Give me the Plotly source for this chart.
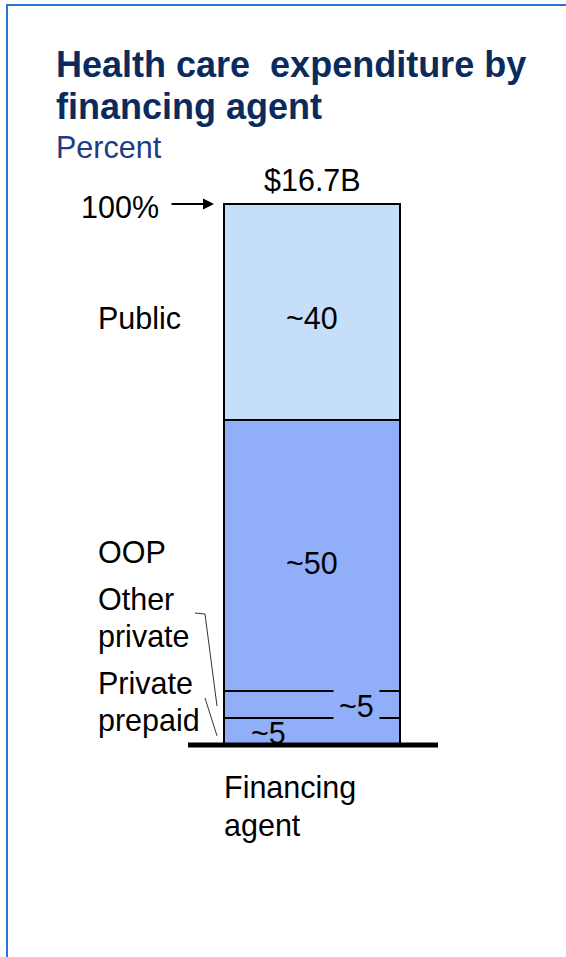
import plotly.graph_objects as go

# Stacked share of health care expenditure by financing agent (bottom to top)
segments = ["Private prepaid", "Other private", "OOP", "Public"]
shares = [5, 5, 50, 40]
seg_colors = ["#91AEF9", "#91AEF9", "#91AEF9", "#C5DFFA"]
category = "Financing agent"
total_label = "$16.7B"

W, H = 566, 957
FONT = "Liberation Sans, Arial, sans-serif"
LABEL_SIZE = 30.5
TITLE_SIZE = 36

# Pixel <-> data mapping for the single full-page plot area
BAR_LEFT, BAR_RIGHT = 224, 400
BASE_PX, TOP_PX = 745, 204
x_unit = BAR_RIGHT - BAR_LEFT            # one bar width
x_center = (BAR_LEFT + BAR_RIGHT) / 2
y_unit = (BASE_PX - TOP_PX) / 100.0


def px(x):
    return (x - x_center) / x_unit


def py(y):
    return (BASE_PX - y) / y_unit


fig = go.Figure()
for name, val, col in zip(segments, shares, seg_colors):
    fig.add_trace(go.Bar(
        x=[0], y=[val], width=[1], name=name,
        marker=dict(color=col, line=dict(color="black", width=2)),
        hoverinfo="skip", showlegend=False,
    ))

ann = []


def text(x, y, s, size=LABEL_SIZE, color="black", xanchor="left", bold=False, **kw):
    ann.append(dict(
        x=x, y=y, xref="x", yref="y", text=f"<b>{s}</b>" if bold else s,
        showarrow=False, xanchor=xanchor, yanchor="middle",
        font=dict(family=FONT, size=size, color=color), **kw))


# Title and unit
text(px(54), py(64), "Health care  expenditure by", size=TITLE_SIZE, color="#0B2B5E", bold=True)
text(px(54), py(106), "financing agent", size=TITLE_SIZE, color="#0B2B5E", bold=True)
text(px(54), py(147), "Percent", color="#1B3C86")

# Total above the bar and 100% marker
text(0, py(180), total_label, xanchor="center")
text(px(161), py(207), "100%", xanchor="right")
ann.append(dict(x=-0.5, y=sum(shares), xref="x", yref="y", text="",
                showarrow=True, ax=-54, ay=0, axref="pixel", ayref="pixel",
                arrowhead=2, arrowsize=1.1, arrowwidth=2, arrowcolor="black",
                standoff=10))

# Segment value labels
cum = [sum(shares[:i]) for i in range(len(shares))]
mids = [c + v / 2 for c, v in zip(cum, shares)]
text(0, mids[3] - 1.1, f"~{shares[3]}", xanchor="center")
text(0, mids[2] - 1.3, f"~{shares[2]}", xanchor="center")
text(px(356), mids[1] - 0.3, f"~{shares[1]}", xanchor="center",
     bgcolor=seg_colors[1], borderpad=5)
text(px(268), mids[0] - 0.3, f"~{shares[0]}", xanchor="center")

# Segment names to the left of the bar
text(px(96), mids[3] - 1.1, "Public")
text(px(96), py(552), "OOP")
text(px(96), py(599), "Other")
text(px(96), py(636), "private")
text(px(96), py(683), "Private")
text(px(96), py(720), "prepaid")

# Category label under the baseline
text(px(222), py(787), "Financing")
text(px(222), py(825), "agent")

shapes = [
    # baseline
    dict(type="line", xref="x", yref="y", x0=px(188), x1=px(438), y0=0, y1=0,
         line=dict(color="black", width=5), layer="above"),
    # leader lines
    dict(type="path", xref="x", yref="y",
         path=f"M {px(195)},{py(613)} L {px(205)},{py(614)} L {px(217)},{mids[1] - 0.3}",
         line=dict(color="#333333", width=1)),
    dict(type="line", xref="x", yref="y", x0=px(205), y0=py(698),
         x1=px(217), y1=mids[0] - 0.8, line=dict(color="#333333", width=1)),
    # page frame
    dict(type="rect", xref="paper", yref="paper",
         x0=7 / W, x1=1.02, y0=-0.02, y1=1 - 5 / H,
         line=dict(color="#2A74D6", width=2)),
]

fig.update_layout(
    width=W, height=H, margin=dict(l=0, r=0, t=0, b=0),
    paper_bgcolor="white", plot_bgcolor="white",
    barmode="stack", bargap=0,
    xaxis=dict(range=[px(0), px(W)], visible=False, fixedrange=True),
    yaxis=dict(range=[py(H), py(0)], visible=False, fixedrange=True),
    annotations=ann, shapes=shapes,
)

fig.write_html("out.html")
